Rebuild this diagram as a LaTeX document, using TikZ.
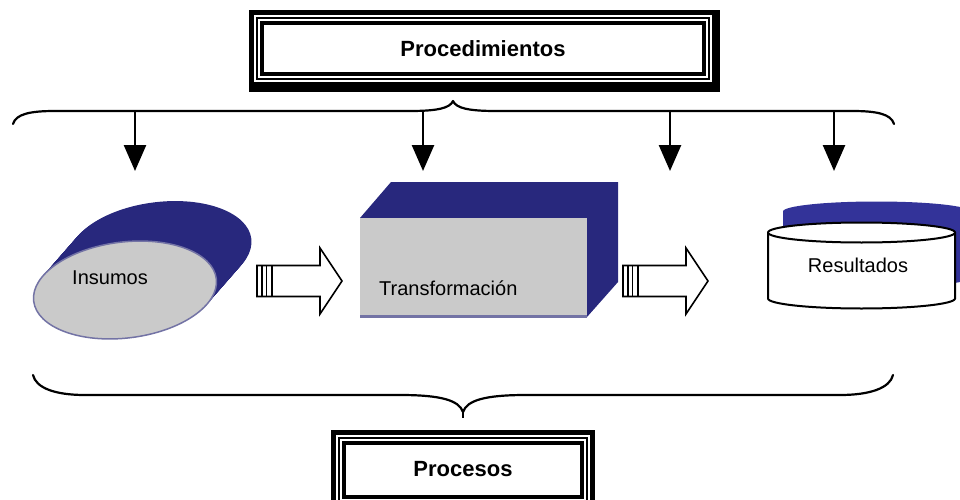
\documentclass[tikz,border=0pt]{standalone}
\usepackage{fontspec}
\setmainfont{Liberation Sans}
\usetikzlibrary{arrows.meta,backgrounds,calc}
\definecolor{navy}{RGB}{40,40,125}
\definecolor{shadowblue}{RGB}{51,51,153}
\definecolor{lgray}{RGB}{202,202,202}
\definecolor{edgeblue}{RGB}{115,115,165}
\tikzset{
  titlebox/.style={fill=white, inner sep=0pt, font=\fontsize{22}{24}\selectfont\bfseries},
  lbl/.style={inner sep=0pt, font=\fontsize{20}{22}\selectfont},
  brace/.style={line width=2.2pt, line cap=round, line join=round},
  varrow/.style={line width=2.6pt, -{Triangle[width=22pt,length=26pt]}},
  blockout/.style={line width=1.6pt, fill=white, line join=miter},
}
% triple frame around a node: #1 node, #2 extra right, #3 extra bottom
\newcommand\tframe[3]{%
  \begin{scope}[on background layer]
    \fill[black] ([shift={(-15,-15)}]#1.north west) rectangle ([shift={({15+#2},{15+#3})}]#1.south east);
    \fill[white] ([shift={(-10,-10)}]#1.north west) rectangle ([shift={(10,10)}]#1.south east);
    \fill[black] ([shift={(-8,-8)}]#1.north west) rectangle ([shift={(8,8)}]#1.south east);
    \fill[white] ([shift={(-6,-6)}]#1.north west) rectangle ([shift={(6,6)}]#1.south east);
    \fill[black] ([shift={(-4,-4)}]#1.north west) rectangle ([shift={(4,4)}]#1.south east);
  \end{scope}}
% block arrow: #1 tail x, #2 centre y
\newcommand\blockarrow[2]{%
  \draw[blockout] ({#1},{#2-15.5}) -- ({#1+63},{#2-15.5}) -- ({#1+63},{#2-33}) -- ({#1+85},{#2}) -- ({#1+63},{#2+33}) -- ({#1+63},{#2+15.5}) -- ({#1},{#2+15.5}) -- cycle;
  \foreach \d/\w in {5/1.3,9.5/1.3,15/2.2}
    \draw[line width=\w pt] ({#1+\d},{#2-15.5}) -- ({#1+\d},{#2+15.5});}
\begin{document}
\begin{tikzpicture}[x=1pt,y=-1pt]
\useasboundingbox (0,0) rectangle (960,500);
\clip (0,0) rectangle (960,500);

% title boxes
\node[titlebox, minimum width=438pt, minimum height=47pt] (proc) at (483,48.5) {\raisebox{-3pt}{Procedimientos}};
\tframe{proc}{3}{5}
\node[titlebox, minimum width=234pt, minimum height=50pt] (pros) at (463,470) {\raisebox{2pt}{Procesos}};
\tframe{pros}{0}{0}

% top brace
\draw[brace] (13,124) .. controls (16,114) and (30,111) .. (55,111) -- (410,111)
  .. controls (438,111) and (450,108) .. (453,101)
  .. controls (456,108) and (468,111) .. (496,111) -- (852,111)
  .. controls (877,111) and (891,114) .. (894,124);

% bottom brace
\draw[brace] (33,375) .. controls (36,388) and (55,395) .. (85,395) -- (400,395)
  .. controls (440,395) and (459,400) .. (463,412)
  .. controls (467,400) and (486,395) .. (526,395) -- (840,395)
  .. controls (870,395) and (890,388) .. (893,375);
\draw[line width=2pt] (463,410) -- (463,418);

% vertical arrows
\foreach \i/\x in {1/135,2/423,3/670,4/834}{
  \coordinate (b\i) at (\x,112);
  \coordinate (t\i) at (\x,171);
  \draw[varrow] (b\i) -- (t\i);
}

% Insumos shape
\foreach \t in {0,1,...,40}
  \fill[navy, shift={({125+35*\t/40},{290-40*\t/40})}, rotate=7] (0,0) ellipse [x radius=92pt, y radius=48pt];
\filldraw[fill=lgray, draw=edgeblue, line width=1.5pt, shift={(125,290)}, rotate=7] (0,0) ellipse [x radius=92pt, y radius=48pt];
\node[lbl] (ins) at (110,278) {Insumos};

% Transformacion box
\fill[navy] (360,218) -- (391,182) -- (618,182) -- (618,282) -- (587,317) -- (587,218) -- cycle;
\fill[lgray] (360,218) rectangle (587,317);
\draw[edgeblue, line width=3pt] (360,316) -- (587,316);
\node[lbl, anchor=west] (tra) at (379,288) {Transformación};

% Resultados cylinder
\fill[shadowblue, shift={(15,-21)}] (768,232.5) -- (768,298.5)
  arc[start angle=180, end angle=360, x radius=93.5pt, y radius=10pt] -- (955,232.5)
  arc[start angle=0, end angle=180, x radius=93.5pt, y radius=10pt] -- cycle;
\filldraw[fill=white, draw=black, line width=2pt] (768,232.5) -- (768,298.5)
  arc[start angle=180, end angle=360, x radius=93.5pt, y radius=10pt] -- (955,232.5)
  arc[start angle=0, end angle=180, x radius=93.5pt, y radius=10pt] -- cycle;
\draw[line width=2pt] (768,232.5) arc[start angle=180, end angle=360, x radius=93.5pt, y radius=10pt];
\node[lbl] (res) at (858,265) {Resultados};

% block arrows
\blockarrow{257}{281}
\blockarrow{623}{281}
\end{tikzpicture}
\end{document}
